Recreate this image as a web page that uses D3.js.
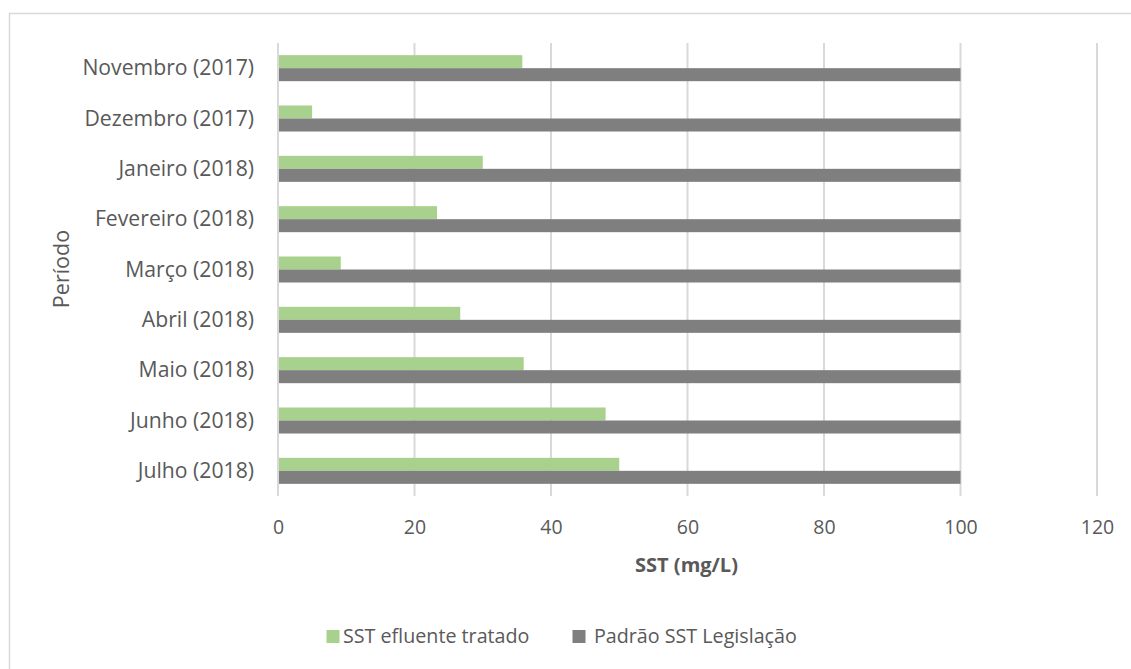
<!DOCTYPE html>
<html>
<head>
<meta charset="utf-8">
<script src="https://cdn.jsdelivr.net/npm/d3@7"></script>
<style>
  html, body { margin: 0; padding: 0; background: #fff; }
  svg { display: block; }
  text { font-family: "Open Sans", "Noto Sans", sans-serif; fill: #595959; }
</style>
</head>
<body>
<svg id="chart" width="1131" height="669"></svg>
<script>
// Monthly total suspended solids (SST) in treated effluent vs. legal limit
const periods = [
  "Novembro (2017)", "Dezembro (2017)", "Janeiro (2018)", "Fevereiro (2018)",
  "Março (2018)", "Abril (2018)", "Maio (2018)", "Junho (2018)", "Julho (2018)"
];
const sstEfluente = [35.8, 5, 30, 23.3, 9.2, 26.7, 36, 48, 50];
const padraoLegislacao = [100, 100, 100, 100, 100, 100, 100, 100, 100];
const seriesNames = ["SST efluente tratado", "Padrão SST Legislação"];
const seriesColors = ["#a9d18e", "#7f7f7f"];
const xTicks = [0, 20, 40, 60, 80, 100, 120];
const xTitle = "SST (mg/L)";
const yTitle = "Período";

const rows = periods.map((p, i) => ({
  period: p,
  values: [sstEfluente[i], padraoLegislacao[i]]
}));

const svg = d3.select("#chart");

// outer frame
svg.append("rect")
  .attr("x", 9.5).attr("y", 13.5)
  .attr("width", 1300).attr("height", 800)
  .attr("fill", "none").attr("stroke", "#d9d9d9").attr("stroke-width", 1.5);

const plot = { left: 278, right: 1097, top: 43, bottom: 496 };

const x = d3.scaleLinear().domain([0, 120]).range([plot.left, plot.right]);
const y = d3.scaleBand().domain(periods)
  .range([plot.top, plot.bottom])
  .paddingInner(0.483).paddingOuter(0.2415);
const ySub = d3.scaleBand().domain([0, 1]).range([0, y.bandwidth()]);

// vertical gridlines
svg.append("g").selectAll("line").data(xTicks).join("line")
  .attr("x1", d => x(d)).attr("x2", d => x(d))
  .attr("y1", plot.top).attr("y2", plot.bottom)
  .attr("stroke", "#d9d9d9").attr("stroke-width", 2);

// bars
const groups = svg.append("g").selectAll("g").data(rows).join("g")
  .attr("transform", d => `translate(0,${y(d.period)})`);
groups.selectAll("rect").data(d => d.values.map((v, k) => ({ v, k }))).join("rect")
  .attr("x", x(0) + 1)
  .attr("y", d => ySub(d.k))
  .attr("width", d => x(d.v) - x(0) - 1)
  .attr("height", ySub.bandwidth())
  .attr("fill", d => seriesColors[d.k]);

// x axis tick labels
const xAxis = d3.axisBottom(x).tickValues(xTicks).tickSize(0).tickPadding(0);
const gx = svg.append("g").attr("transform", `translate(0,${plot.bottom + 24})`).call(xAxis);
gx.select(".domain").remove();
gx.selectAll("text").attr("font-size", "19.5px").attr("fill", "#595959")
  .style("font-family", '"Open Sans", "Noto Sans", sans-serif');

// y axis category labels
const yAxis = d3.axisLeft(y).tickSize(0).tickPadding(24);
const gy = svg.append("g").attr("transform", `translate(${plot.left},0)`).call(yAxis);
gy.select(".domain").remove();
gy.selectAll("text").attr("font-size", "21.2px").attr("fill", "#595959")
  .attr("dy", "0.33em")
  .style("font-family", '"Open Sans", "Noto Sans", sans-serif');

// axis titles
svg.append("text")
  .attr("x", (plot.left + plot.right) / 2 - 1).attr("y", 572)
  .attr("text-anchor", "middle")
  .attr("font-size", "20px").attr("font-weight", "bold")
  .text(xTitle);

svg.append("text")
  .attr("transform", "translate(69,269) rotate(-90)")
  .attr("text-anchor", "middle")
  .attr("font-size", "21.5px")
  .text(yTitle);

// legend
const legendItems = [
  { name: seriesNames[0], color: seriesColors[0], sx: 326.5, tx: 343 },
  { name: seriesNames[1], color: seriesColors[1], sx: 572.5, tx: 594 }
];
const lg = svg.append("g").selectAll("g").data(legendItems).join("g");
lg.append("rect")
  .attr("x", d => d.sx).attr("y", 630)
  .attr("width", 13).attr("height", 13)
  .attr("fill", d => d.color);
lg.append("text")
  .attr("x", d => d.tx).attr("y", 643)
  .attr("font-size", "19.7px")
  .text(d => d.name);
</script>
</body>
</html>
